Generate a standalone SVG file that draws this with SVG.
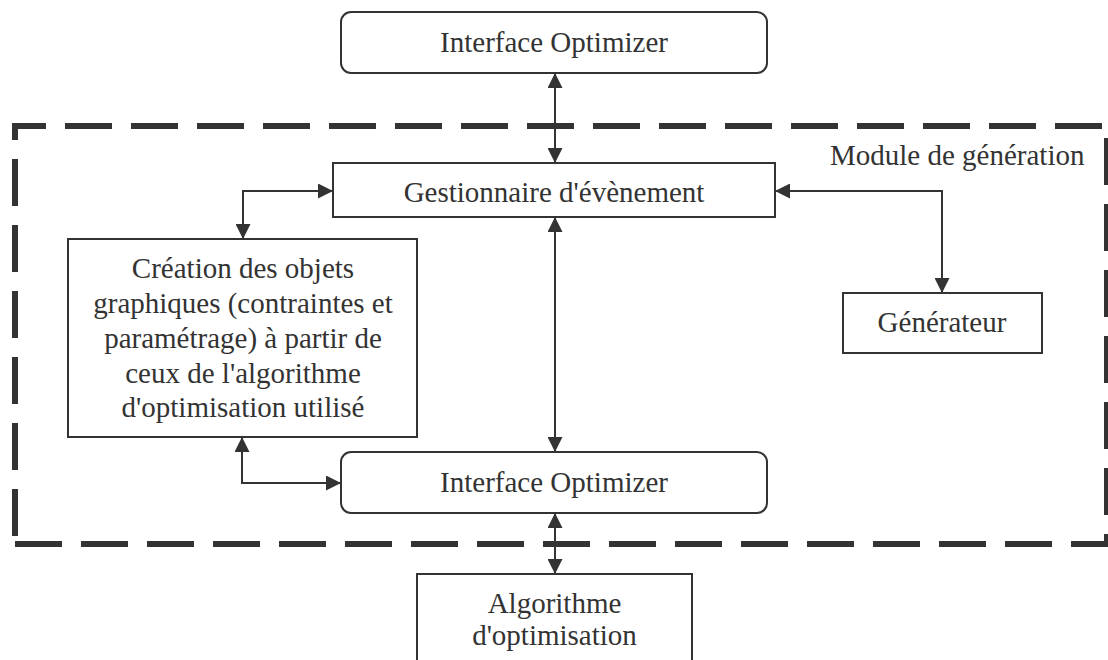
<svg xmlns="http://www.w3.org/2000/svg" width="1108" height="660" viewBox="0 0 1108 660">
<defs>
<style>
.box{fill:#fff;stroke:#333;stroke-width:2}
.t{font-family:"Liberation Serif","Times New Roman",serif;font-size:29px;fill:#333;text-anchor:middle}
.c{fill:none;stroke:#333;stroke-width:2;marker-start:url(#ah);marker-end:url(#ah)}
.d{fill:none;stroke:#333;stroke-width:6;stroke-dasharray:47 19;stroke-linecap:butt}
</style>
<marker id="ah" markerUnits="userSpaceOnUse" markerWidth="15" markerHeight="15" refX="15" refY="7.5" orient="auto-start-reverse" viewBox="0 0 15 15">
<path d="M0,0 L15,7.5 L0,15 z" fill="#333"/>
</marker>
</defs>
<rect width="1108" height="660" fill="#fff"/>
<g id="module">
<line class="d" x1="12" y1="126" x2="1110" y2="126" stroke-dashoffset="13"/>
<line class="d" x1="15" y1="123" x2="15" y2="547" stroke-dashoffset="30"/>
<line class="d" x1="1107" y1="126" x2="1107" y2="547" stroke-dashoffset="54"/>
<line class="d" x1="15" y1="544" x2="1110" y2="544"/>
<text class="t" x="830" y="165" style="text-anchor:start">Module de génération</text>
</g>
<g id="connectors">
<line class="c" x1="555" y1="73" x2="555" y2="163"/>
<path class="c" d="M333,191 H243 V239"/>
<path class="c" d="M775,191 H942 V293"/>
<line class="c" x1="555" y1="217" x2="555" y2="452"/>
<path class="c" d="M242,437 V483 H341"/>
<line class="c" x1="555" y1="513" x2="555" y2="574"/>
</g>
<g id="interface-top">
<rect class="box" x="341" y="12" width="426" height="61" rx="10"/>
<text class="t" x="554" y="52">Interface Optimizer</text>
</g>
<g id="gestionnaire">
<rect class="box" x="333" y="163" width="442" height="54"/>
<text class="t" x="554" y="202">Gestionnaire d'évènement</text>
</g>
<g id="creation">
<rect class="box" x="68" y="239" width="349" height="198"/>
<text class="t" x="243" y="278">Création des objets</text>
<text class="t" x="243" y="313">graphiques (contraintes et</text>
<text class="t" x="243" y="348">paramétrage) à partir de</text>
<text class="t" x="243" y="383">ceux de l'algorithme</text>
<text class="t" x="243" y="417">d'optimisation utilisé</text>
</g>
<g id="generateur">
<rect class="box" x="843" y="293" width="199" height="60"/>
<text class="t" x="942" y="332">Générateur</text>
</g>
<g id="interface-bottom">
<rect class="box" x="341" y="452" width="426" height="61" rx="10"/>
<text class="t" x="554" y="492">Interface Optimizer</text>
</g>
<g id="algorithme">
<rect class="box" x="417" y="574" width="275" height="100"/>
<text class="t" x="554.5" y="613">Algorithme</text>
<text class="t" x="554.5" y="645">d'optimisation</text>
</g>
</svg>
